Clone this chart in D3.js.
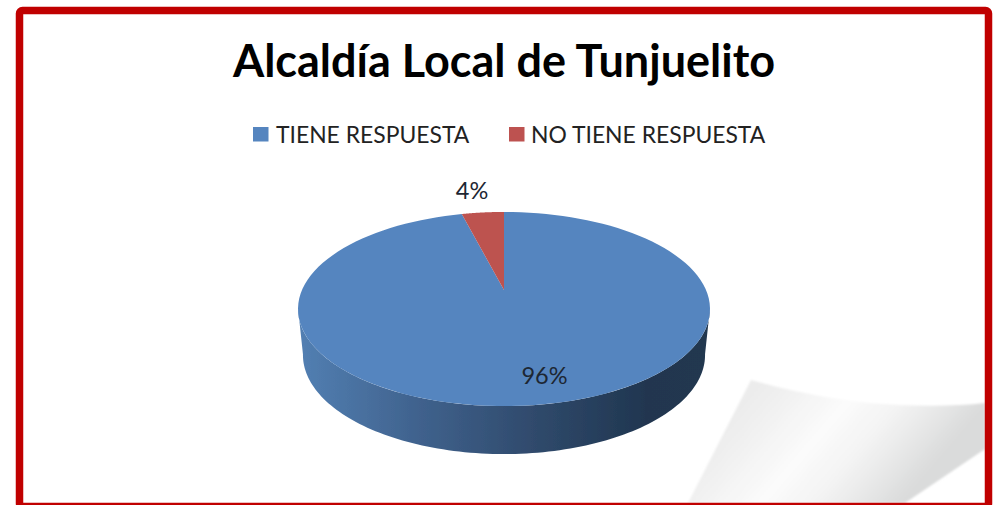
<!DOCTYPE html>
<html><head><meta charset="utf-8">
<script src="https://cdnjs.cloudflare.com/ajax/libs/d3/7.8.5/d3.min.js"></script>
<style>html,body{margin:0;padding:0;background:#fff;overflow:hidden}svg{display:block}text{font-family:Lato,Carlito,"Open Sans",sans-serif}</style>
</head><body><svg id="c" width="994" height="505"></svg>
<script>
const chartTitle = "Alcaldía Local de Tunjuelito";
const categories = ["TIENE RESPUESTA", "NO TIENE RESPUESTA"];
const values = [96, 4];
const labels = ["96%", "4%"];
const colors = ["#5585BF", "#BD5250"];

const svg = d3.select("#c");
const defs = svg.append("defs");
const soft = defs.append("filter").attr("id","soft").attr("x","-5%").attr("y","-5%").attr("width","110%").attr("height","110%");
soft.append("feGaussianBlur").attr("stdDeviation",0.5);
const curlBlur = defs.append("filter").attr("id","curlBlur");
curlBlur.append("feGaussianBlur").attr("stdDeviation",1.2);

const wallGrad = defs.append("linearGradient").attr("id","wall").attr("gradientUnits","userSpaceOnUse")
  .attr("x1",300).attr("x2",708).attr("y1",0).attr("y2",0);
[[0,"#527fb2"],[0.3,"#3f618c"],[0.6,"#2e4869"],[0.85,"#203650"],[1,"#213750"]].forEach(s=>wallGrad.append("stop").attr("offset",s[0]).attr("stop-color",s[1]));

const curlGrad = defs.append("linearGradient").attr("id","curl").attr("gradientUnits","userSpaceOnUse")
  .attr("x1",760).attr("y1",385).attr("x2",900).attr("y2",505);
[[0,"#ececec"],[0.42,"#fbfbfb"],[0.65,"#f3f3f3"],[1,"#dadbdb"]].forEach(s=>curlGrad.append("stop").attr("offset",s[0]).attr("stop-color",s[1]));

// page-curl decoration
svg.append("path").attr("fill","url(#curl)").attr("filter","url(#curlBlur)")
  .attr("d","M751,380 Q830,402 900,405 Q950,407 985,403 L985,449 L905,503 L688,503 Z");

// frame
svg.append("rect").attr("x",19.5).attr("y",10.5).attr("width",969).attr("height",496)
  .attr("rx",3).attr("fill","none").attr("stroke","#C00000").attr("stroke-width",7.5);

// title
svg.append("text").attr("x",504).attr("y",77).attr("text-anchor","middle")
  .attr("font-size",45).attr("font-weight",700).attr("fill","#000").text(chartTitle);

// legend
const legend = [{sx:253,tx:276},{sx:509,tx:531}];
categories.forEach((c,i)=>{
  svg.append("rect").attr("x",legend[i].sx).attr("y",127).attr("width",15.5).attr("height",14.5).attr("fill",colors[i]);
  svg.append("text").attr("x",legend[i].tx).attr("y",143).attr("font-size",22.9).attr("fill","#222").text(c);
});

// perspective projection of the unit disc
const cx = 504, rad = 202, apexY = 290;
const k = 0.196, a = -36.5;
const project = (ang) => {
  const u = Math.sin(ang), v = Math.cos(ang), d = k*v+1;
  return [cx + rad*u/d, (a*v+apexY)/d];
};
const pie = d3.pie().sort(null).startAngle(0).endAngle(2*Math.PI);
const arcs = pie(values);
const line = d3.line();
const sweep = (s,e) => d3.range(0,121).map(i=>project(s+(e-s)*i/120));
const pieG = svg.append("g").attr("filter","url(#soft)");

// wall: lower half of the disc rim extruded downward
const topCy = 309, bottomCy = 355, ryScale = 1.02, rxScale = 0.976;
const lowerTop = sweep(Math.PI*0.56, Math.PI*1.44);
const lowerBottom = lowerTop.slice().reverse().map(p=>[cx+(p[0]-cx)*rxScale, bottomCy+(p[1]-topCy)*ryScale]);
pieG.append("path").attr("fill","url(#wall)")
  .attr("d",line(lowerTop.concat(lowerBottom))+"Z");

// top faces
arcs.forEach((d,i)=>{
  pieG.append("path").attr("fill",colors[i])
    .attr("d",line([[cx,apexY]].concat(sweep(d.startAngle,d.endAngle)))+"Z");
});

// data labels
const labelPos = [[544.5,384],[472,199]];
labels.forEach((t,i)=>{
  svg.append("text").attr("x",labelPos[i][0]).attr("y",labelPos[i][1]).attr("text-anchor","middle")
    .attr("font-size",23.5).attr("fill","#1d2733").text(t);
});
</script></body></html>
